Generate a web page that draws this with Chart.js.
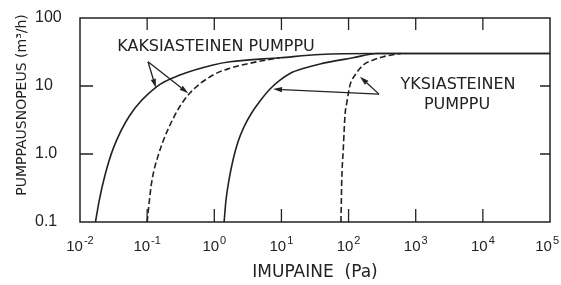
<!DOCTYPE html>
<html>
<head>
<meta charset="utf-8">
<script src="https://cdn.jsdelivr.net/npm/chart.js@4/dist/chart.umd.min.js"></script>
<style>
    html, body { margin: 0; padding: 0; background: #fff; }
    #wrap { width: 561px; height: 285px; }
</style>
</head>
<body>
<div id="wrap"><canvas id="pumpChart"></canvas></div>
<script>
// kaksiasteinen pumppu, solid
const twoStageSolidX = [0.017, 0.0192, 0.0236, 0.0313, 0.0556, 0.139, 0.308, 0.96, 1.71, 9.5, 37.6, 230, 100000];
const twoStageSolidY = [0.1, 0.2, 0.49, 1.21, 3.75, 9.8, 14.5, 20.4, 22.7, 26, 29, 30, 30];
// kaksiasteinen pumppu, dashed
const twoStageDashX = [0.1, 0.1076, 0.117, 0.147, 0.26, 0.43, 0.96, 1.71, 4.3, 9.5];
const twoStageDashY = [0.1, 0.2, 0.39, 0.97, 3.75, 7.8, 14.5, 18.2, 22.7, 26];
// yksiasteinen pumppu, solid
const oneStageSolidX = [1.4, 1.495, 1.656, 1.9, 2.25, 2.77, 3.52, 4.8, 6.76, 9.53, 13.4, 22.4, 37.6, 116, 265, 100000];
const oneStageSolidY = [0.1, 0.211, 0.415, 0.817, 1.5, 2.5, 3.87, 6.01, 9.04, 12.2, 15.3, 18.4, 21.1, 26, 30, 30];
// yksiasteinen pumppu, dashed
const oneStageDashX = [77, 78, 79, 83.5, 88.5, 93.8, 105, 125, 166, 233, 329, 440, 600];
const oneStageDashY = [0.1, 0.2, 0.39, 1.21, 3.75, 5.56, 10.3, 14.5, 20.4, 24.1, 27, 28.6, 30];

const xTickValues = [0.01, 0.1, 1, 10, 100, 1000, 10000, 100000];
const xTickExponents = ['-2', '-1', '0', '1', '2', '3', '4', '5'];
const yTickValues = [0.1, 1, 10, 100];
const yTickLabels = ['0.1', '1.0', '10', '100'];

const xTitle = 'IMUPAINE  (Pa)';
const yTitle = 'PUMPPAUSNOPEUS (m³/h)';

// annotation anchors in data units
const labelTexts = [
    { text: 'KAKSIASTEINEN PUMPPU', x: 1.06, y: 37.5 },
    { text: 'YKSIASTEINEN', x: 4270, y: 10.3 },
    { text: 'PUMPPU', x: 4120, y: 5.26 }
];
const arrows = [
    { from: [0.103, 22.7], to: [0.135, 9.4] },
    { from: [0.103, 22.7], to: [0.41, 7.8] },
    { from: [284, 7.6], to: [7.5, 9.0] },
    { from: [284, 7.6], to: [148, 13.7] }
];

const INK = '#222';
const NARROW = '"Liberation Sans Narrow", "Liberation Sans", sans-serif';

function toPoints(xs, ys) {
    return xs.map((x, i) => ({ x: x, y: ys[i] }));
}

function curve(xs, ys, dashed) {
    return {
        data: toPoints(xs, ys),
        borderColor: INK,
        borderWidth: 1.6,
        borderDash: dashed ? [6, 3] : [],
        pointRadius: 0,
        cubicInterpolationMode: 'monotone',
        fill: false
    };
}

const decorPlugin = {
    id: 'decor',
    afterDatasetsDraw(chart) {
        const ctx = chart.ctx;
        const area = chart.chartArea;
        const xs = chart.scales.x;
        const ys = chart.scales.y;
        ctx.save();
        ctx.strokeStyle = INK;
        ctx.fillStyle = INK;

        // frame
        ctx.lineWidth = 1.5;
        ctx.strokeRect(area.left, area.top, area.right - area.left, area.bottom - area.top);

        // inward tick marks
        ctx.lineWidth = 1.3;
        ctx.beginPath();
        xTickValues.slice(1, -1).forEach(v => {
            const px = xs.getPixelForValue(v);
            ctx.moveTo(px, area.top); ctx.lineTo(px, area.top + 12);
            ctx.moveTo(px, area.bottom); ctx.lineTo(px, area.bottom - 13);
        });
        yTickValues.slice(1, -1).forEach(v => {
            const py = ys.getPixelForValue(v);
            ctx.moveTo(area.left, py); ctx.lineTo(area.left + 13, py);
            ctx.moveTo(area.right, py); ctx.lineTo(area.right - 10, py);
        });
        ctx.stroke();

        // x tick labels: 10 with exponent
        ctx.textBaseline = 'alphabetic';
        ctx.textAlign = 'left';
        xTickValues.forEach((v, i) => {
            const px = xs.getPixelForValue(v);
            ctx.font = '15px ' + NARROW;
            const baseW = ctx.measureText('10').width;
            ctx.font = '11px ' + NARROW;
            const expW = ctx.measureText(xTickExponents[i]).width;
            const total = baseW + expW + 1;
            let start = px - total / 2;
            if (start + total > chart.width - 2) start = chart.width - 2 - total;
            ctx.font = '15px ' + NARROW;
            ctx.fillText('10', start, 251);
            ctx.font = '11px ' + NARROW;
            ctx.fillText(xTickExponents[i], start + baseW + 1, 244);
        });

        // y title
        ctx.save();
        ctx.translate(22, 105);
        ctx.rotate(-Math.PI / 2);
        ctx.font = '14px "DejaVu Sans", sans-serif';
        ctx.textAlign = 'center';
        ctx.textBaseline = 'middle';
        ctx.fillText(yTitle, 0, 0);
        ctx.restore();

        // annotation texts
        ctx.font = '16px "DejaVu Sans", sans-serif';
        ctx.textAlign = 'center';
        ctx.textBaseline = 'middle';
        labelTexts.forEach(t => {
            ctx.fillText(t.text, xs.getPixelForValue(t.x), ys.getPixelForValue(t.y));
        });

        // arrows
        ctx.lineWidth = 1.3;
        arrows.forEach(a => {
            const x0 = xs.getPixelForValue(a.from[0]);
            const y0 = ys.getPixelForValue(a.from[1]);
            const x1 = xs.getPixelForValue(a.to[0]);
            const y1 = ys.getPixelForValue(a.to[1]);
            const ang = Math.atan2(y1 - y0, x1 - x0);
            const len = 9, half = 2.6;
            const bx = x1 - len * Math.cos(ang);
            const by = y1 - len * Math.sin(ang);
            ctx.beginPath();
            ctx.moveTo(x0, y0);
            ctx.lineTo(bx, by);
            ctx.stroke();
            ctx.beginPath();
            ctx.moveTo(x1, y1);
            ctx.lineTo(bx + half * Math.sin(ang), by - half * Math.cos(ang));
            ctx.lineTo(bx - half * Math.sin(ang), by + half * Math.cos(ang));
            ctx.closePath();
            ctx.fill();
        });
        ctx.restore();
    }
};

new Chart(document.getElementById('pumpChart').getContext('2d'), {
    type: 'line',
    data: {
        datasets: [
            curve(twoStageSolidX, twoStageSolidY, false),
            curve(twoStageDashX, twoStageDashY, true),
            curve(oneStageSolidX, oneStageSolidY, false),
            curve(oneStageDashX, oneStageDashY, true)
        ]
    },
    options: {
        responsive: true,
        maintainAspectRatio: false,
        animation: false,
        layout: { padding: { top: 18, right: 11, bottom: 0, left: 35 } },
        plugins: {
            legend: { display: false },
            tooltip: { enabled: false }
        },
        scales: {
            x: {
                type: 'logarithmic',
                min: 0.01,
                max: 100000,
                afterBuildTicks: scale => { scale.ticks = xTickValues.map(v => ({ value: v })); },
                afterFit: scale => { scale.height = 63; },
                grid: { display: false },
                border: { display: false },
                ticks: { display: false },
                title: {
                    display: true,
                    text: xTitle,
                    color: INK,
                    font: { family: '"DejaVu Sans", sans-serif', size: 17 },
                    padding: { top: 0, bottom: 2 }
                }
            },
            y: {
                type: 'logarithmic',
                min: 0.1,
                max: 100,
                afterBuildTicks: scale => { scale.ticks = yTickValues.map(v => ({ value: v })); },
                afterFit: scale => { scale.width = 45; },
                grid: { display: false },
                border: { display: false },
                ticks: {
                    crossAlign: 'far',
                    color: INK,
                    font: { family: NARROW, size: 16 },
                    callback: value => {
                        const i = yTickValues.indexOf(value);
                        return i >= 0 ? yTickLabels[i] : '';
                    }
                }
            }
        }
    },
    plugins: [decorPlugin]
});
</script>
</body>
</html>
